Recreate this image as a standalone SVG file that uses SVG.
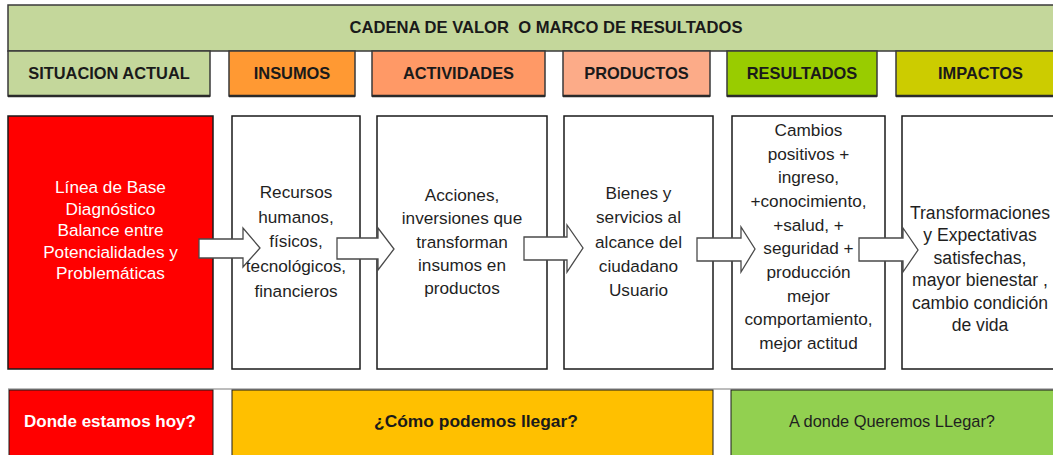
<svg xmlns="http://www.w3.org/2000/svg" width="1053" height="455" viewBox="0 0 1053 455">
<style>
.hd{stroke:#3a3a3a;stroke-width:1.5}
.bx{fill:#ffffff;stroke:#1a1a1a;stroke-width:1.5}
.ht{font-family:"Liberation Sans",Arial,sans-serif;font-weight:bold;font-size:16.4px;fill:#1a1a1a;text-anchor:middle}
.bt{font-family:"Liberation Sans",Arial,sans-serif;font-size:17.2px;fill:#1f1f1f;text-anchor:middle}
.wt{fill:#ffffff}
.ar{fill:#ffffff;stroke:#4a4a4a;stroke-width:1.3;stroke-linejoin:miter}
.sh{stroke:#2a2a2a;stroke-width:2.5}
</style>
<rect width="1053" height="455" fill="#ffffff"/>
<g id="banner">
<rect x="8" y="5" width="1060" height="46" fill="#c4d79b" class="hd"/>
<text x="546" y="33" class="ht" style="font-size:16.6px;white-space:pre" xml:space="preserve">CADENA DE VALOR  O MARCO DE RESULTADOS</text>
</g>
<g id="h-situacion"><rect x="8" y="51" width="202" height="45" fill="#c4d79b" class="hd"/><line x1="8" y1="96" x2="210" y2="96" class="sh"/><text x="109" y="79" class="ht">SITUACION ACTUAL</text></g>
<g id="h-insumos"><rect x="229" y="51" width="126" height="45" fill="#ff9933" class="hd"/><line x1="229" y1="96" x2="355" y2="96" class="sh"/><text x="292" y="79" class="ht">INSUMOS</text></g>
<g id="h-actividades"><rect x="372" y="51" width="173" height="45" fill="#ff9966" class="hd"/><line x1="372" y1="96" x2="545" y2="96" class="sh"/><text x="458.5" y="79" class="ht">ACTIVIDADES</text></g>
<g id="h-productos"><rect x="563" y="51" width="147" height="45" fill="#fcab88" class="hd"/><line x1="563" y1="96" x2="710" y2="96" class="sh"/><text x="636.5" y="79" class="ht">PRODUCTOS</text></g>
<g id="h-resultados"><rect x="727" y="51" width="150" height="45" fill="#99cc00" class="hd"/><line x1="727" y1="96" x2="877" y2="96" class="sh"/><text x="802" y="79" class="ht">RESULTADOS</text></g>
<g id="h-impactos"><rect x="896" y="51" width="170" height="45" fill="#cccc00" class="hd"/><line x1="896" y1="96" x2="1053" y2="96" class="sh"/><text x="980.5" y="79" class="ht">IMPACTOS</text></g>

<g id="situacion">
<rect x="8" y="116" width="205" height="253" fill="#ff0000" stroke="#1a1a1a" stroke-width="1.5"/>
<text class="bt wt"><tspan x="110.5" y="193">Línea de Base</tspan><tspan x="110.5" y="215">Diagnóstico</tspan><tspan x="110.5" y="236">Balance  entre</tspan><tspan x="110.5" y="258">Potencialidades y</tspan><tspan x="110.5" y="279">Problemáticas</tspan></text>
</g>
<g id="insumos">
<rect x="232" y="116" width="128" height="253" class="bx"/>
<text class="bt"><tspan x="296" y="198">Recursos</tspan><tspan x="296" y="222.5">humanos,</tspan><tspan x="296" y="247">físicos,</tspan><tspan x="296" y="272">tecnológicos,</tspan><tspan x="296" y="296.5">financieros</tspan></text>
</g>
<g id="actividades">
<rect x="377" y="116" width="170" height="253" class="bx"/>
<text class="bt"><tspan x="462" y="201">Acciones,</tspan><tspan x="462" y="224">inversiones  que</tspan><tspan x="462" y="247.5">transforman</tspan><tspan x="462" y="271">insumos en</tspan><tspan x="462" y="294">productos</tspan></text>
</g>
<g id="productos">
<rect x="564" y="116" width="149" height="253" class="bx"/>
<text class="bt"><tspan x="638.5" y="199">Bienes y</tspan><tspan x="638.5" y="223">servicios al</tspan><tspan x="638.5" y="247.5">alcance del</tspan><tspan x="638.5" y="272">ciudadano</tspan><tspan x="638.5" y="296">Usuario</tspan></text>
</g>
<g id="resultados">
<rect x="732" y="116" width="153" height="253" class="bx"/>
<text class="bt"><tspan x="808.5" y="136">Cambios</tspan><tspan x="808.5" y="159.7">positivos +</tspan><tspan x="808.5" y="183.3">ingreso,</tspan><tspan x="808.5" y="207">+conocimiento,</tspan><tspan x="808.5" y="230.7">+salud, +</tspan><tspan x="808.5" y="254.3">seguridad +</tspan><tspan x="808.5" y="278">producción</tspan><tspan x="808.5" y="301.7">mejor</tspan><tspan x="808.5" y="325.3">comportamiento,</tspan><tspan x="808.5" y="349">mejor actitud</tspan></text>
</g>
<g id="impactos">
<rect x="902" y="116" width="165" height="253" class="bx"/>
<text class="bt" style="font-size:17.6px"><tspan x="980" y="219">Transformaciones</tspan><tspan x="980" y="241.4">y Expectativas</tspan><tspan x="980" y="263.8">satisfechas,</tspan><tspan x="980" y="286.2">mayor bienestar ,</tspan><tspan x="980" y="308.6">cambio condición</tspan><tspan x="980" y="331">de vida</tspan></text>
</g>

<g id="connectors">
<polygon class="ar" points="199,239 243,239 243,228 260,248 243,267 243,258 199,258"/>
<polygon class="ar" points="337,238 378,238 378,228 394,249 378,270 378,259 337,259"/>
<polygon class="ar" points="524,237 567,237 567,225 583,248 567,272 567,260 524,260"/>
<polygon class="ar" points="697,238 741,238 741,227 755,249 741,272 741,261 697,261"/>
<polygon class="ar" points="859,238 903,238 903,228 918,250 903,272 903,261 859,261"/>
</g>

<line x1="8" y1="389" x2="1053" y2="389" stroke="#7a7a7a" stroke-width="1"/>
<g id="hoy">
<rect x="9" y="390" width="204" height="70" fill="#ff0000" stroke="#1a1a1a" stroke-width="1"/>
<text x="110" y="427" class="ht wt" style="font-size:17px">Donde estamos hoy?</text>
</g>
<g id="como">
<rect x="232" y="390" width="481" height="70" fill="#ffc000" stroke="#1a1a1a" stroke-width="1"/>
<text x="476" y="427" class="ht" style="font-size:17.4px">¿Cómo podemos llegar?</text>
</g>
<g id="donde">
<rect x="731" y="390" width="330" height="70" fill="#92d050" stroke="#1a1a1a" stroke-width="1"/>
<text x="892" y="427" class="bt" style="font-size:16.4px">A donde Queremos LLegar?</text>
</g>
</svg>
